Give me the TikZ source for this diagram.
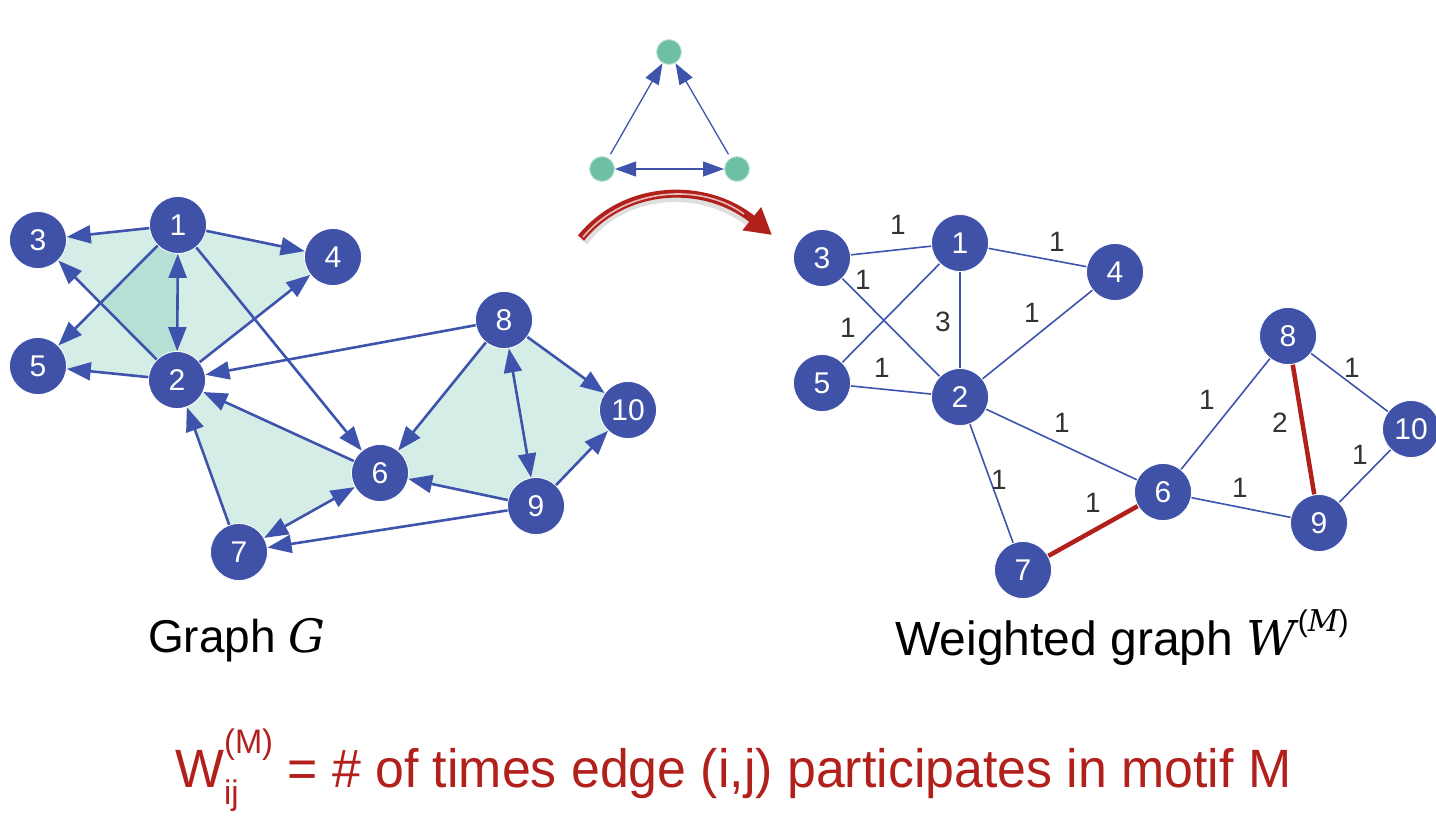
\documentclass[tikz,border=0pt]{standalone}
\usepackage{fontspec}
\setmainfont{Liberation Sans}
\newfontfamily\mathitfont{DejaVu Serif}
\newfontfamily\redfont[FakeStretch=0.96]{Liberation Sans}
\usetikzlibrary{arrows.meta,backgrounds}
\definecolor{nodeblue}{RGB}{63,82,167}
\definecolor{edgeblue}{RGB}{62,84,172}
\definecolor{motifteal}{RGB}{109,191,166}
\definecolor{shadeteal}{RGB}{80,180,155}
\definecolor{redm}{RGB}{178,32,28}
\definecolor{labelgray}{RGB}{50,50,50}
\newcommand{\mitG}{{\mathitfont\itshape G}}
\newcommand{\mitWM}{{\mathitfont\itshape W}\raisebox{0.5em}{\fontsize{30}{30}\selectfont\hspace{2pt}({\mathitfont\itshape M})}}
\begin{document}
\begin{tikzpicture}[x=1pt,y=-1pt,
 vtx/.style={circle, fill=nodeblue, draw=white, line width=0.8pt, minimum size=57pt, inner sep=0pt, text=white, font=\fontsize{30}{30}\selectfont},
 darr/.style={draw=edgeblue, line width=2.6pt, -{Triangle[length=24pt,width=18pt]}},
 dbi/.style={draw=edgeblue, line width=2.6pt, {Triangle[length=24pt,width=18pt]}-{Triangle[length=24pt,width=18pt]}},
 wline/.style={draw=edgeblue, line width=1.6pt},
 redge/.style={draw=redm, line width=4.5pt},
 wlab/.style={text=labelgray, font=\fontsize{28}{28}\selectfont, inner sep=0pt},
 mv/.style={circle, fill=motifteal, draw=motifteal!40, line width=1pt, minimum size=25pt, inner sep=0pt},
 marr/.style={draw=edgeblue, line width=1.3pt, -{Triangle[length=21pt,width=15pt]}},
 mbi/.style={draw=edgeblue, line width=1.3pt, {Triangle[length=21pt,width=15pt]}-{Triangle[length=21pt,width=15pt]}},
 caption/.style={font=\fontsize{46}{46}\selectfont, inner sep=0pt, anchor=base west},
 tri/.style={fill=shadeteal, fill opacity=0.24},
]
\useasboundingbox (0,0) rectangle (1436,820);

% ---------- left graph G ----------
\node[vtx] (l1) at (178,225) {1};
\node[vtx] (l2) at (177,380) {2};
\node[vtx] (l3) at (38,240) {3};
\node[vtx] (l4) at (333,257) {4};
\node[vtx] (l5) at (38,366) {5};
\node[vtx] (l6) at (380,473) {6};
\node[vtx] (l7) at (239,552) {7};
\node[vtx] (l8) at (504,320) {8};
\node[vtx] (l9) at (536,506) {9};
\node[vtx] (l10) at (628,410) {10};

\begin{scope}[on background layer]
 \path[tri] (l1.center) -- (l2.center) -- (l3.center) -- cycle;
 \path[tri] (l1.center) -- (l2.center) -- (l5.center) -- cycle;
 \path[tri] (l1.center) -- (l2.center) -- (l4.center) -- cycle;
 \path[tri] (l2.center) -- (l6.center) -- (l7.center) -- cycle;
 \path[tri] (l8.center) -- (l9.center) -- (l6.center) -- cycle;
 \path[tri] (l8.center) -- (l9.center) -- (l10.center) -- cycle;
\end{scope}

\draw[darr] (l1) -- (l3);
\draw[darr] (l1) -- (l4);
\draw[darr] (l1) -- (l5);
\draw[dbi] (l1) -- (l2);
\draw[darr] (l2) -- (l3);
\draw[darr] (l2) -- (l5);
\draw[darr] (l2) -- (l4);
\draw[darr] (l1) -- (l6);
\draw[darr] (l8) -- (l2);
\draw[darr] (l6) -- (l2);
\draw[darr] (l7) -- (l2);
\draw[darr] (l8) -- (l6);
\draw[dbi] (l8) -- (l9);
\draw[darr] (l8) -- (l10);
\draw[darr] (l9) -- (l10);
\draw[darr] (l9) -- (l6);
\draw[darr] (l9) -- (l7);
\draw[dbi] (l6) -- (l7);

% ---------- motif ----------
\node[mv] (m1) at (669,52) {};
\node[mv] (m2) at (602,169) {};
\node[mv] (m3) at (737,169) {};
\draw[marr, shorten <=4pt] (m2) -- (m1);
\draw[marr, shorten <=4pt] (m3) -- (m1);
\draw[mbi] (m2) -- (m3);

% ---------- red curved arrow ----------
\coordinate (ra) at (581,238);
\coordinate (rb) at (772,235);
\draw[black!25, line width=8pt, opacity=0.5] ([shift={(3,4)}]ra) .. controls (625,188) and (705,185) .. ([shift={(3,4)}]750,222);
\draw[redm, line width=8pt, -{Triangle[length=26pt,width=28pt]}] (ra) .. controls (625,184) and (705,181) .. (rb);
\draw[white!70!redm, line width=1.6pt] ([shift={(2,-1)}]ra) .. controls (626,186) and (702,183) .. (744,214);

% ---------- right weighted graph ----------
\node[vtx] (r1) at (960,243) {1};
\node[vtx] (r2) at (960,397) {2};
\node[vtx] (r3) at (822,258) {3};
\node[vtx] (r4) at (1115,272) {4};
\node[vtx] (r5) at (822,383) {5};
\node[vtx] (r6) at (1163,492) {6};
\node[vtx] (r7) at (1023,570) {7};
\node[vtx] (r8) at (1288,336) {8};
\node[vtx] (r9) at (1319,523) {9};
\node[vtx] (r10) at (1411,429) {10};

\begin{scope}[on background layer]
 \draw[wline] (r3) -- (r1);
 \draw[wline] (r3) -- (r2);
 \draw[wline] (r5) -- (r1);
 \draw[wline] (r1) -- (r2);
 \draw[wline] (r5) -- (r2);
 \draw[wline] (r1) -- (r4);
 \draw[wline] (r2) -- (r4);
 \draw[wline] (r2) -- (r6);
 \draw[wline] (r2) -- (r7);
 \draw[redge] (r7) -- (r6);
 \draw[wline] (r6) -- (r8);
 \draw[redge] (r8) -- (r9);
 \draw[wline] (r8) -- (r10);
 \draw[wline] (r9) -- (r10);
 \draw[wline] (r6) -- (r9);
\end{scope}

\node[wlab] (w31) at (898,225) {1};
\node[wlab] (w32) at (863,280) {1};
\node[wlab] (w51) at (848,328) {1};
\node[wlab] (w12) at (943,322) {3};
\node[wlab] (w52) at (882,368) {1};
\node[wlab] (w14) at (1057,242) {1};
\node[wlab] (w24) at (1032,313) {1};
\node[wlab] (w26) at (1062,423) {1};
\node[wlab] (w27) at (999,480) {1};
\node[wlab] (w76) at (1093,503) {1};
\node[wlab] (w68) at (1207,400) {1};
\node[wlab] (w89) at (1280,423) {2};
\node[wlab] (w810) at (1352,368) {1};
\node[wlab] (w910) at (1360,455) {1};
\node[wlab] (w69) at (1240,488) {1};

% ---------- captions ----------
\node[caption] (capG) at (148,652) {Graph \mitG};
\node[caption, font=\fontsize{48}{48}\selectfont] (capW) at (895,655) {Weighted graph \mitWM};
\node[caption, text=redm, font=\redfont\fontsize{54}{54}\selectfont] (capF) at (175,787)
 {W\rlap{\raisebox{-0.32em}{\fontsize{34}{34}\selectfont ij}}\raisebox{0.62em}{\fontsize{34}{34}\selectfont (M)} = \# of times edge (i,j) participates in motif M};
\end{tikzpicture}
\end{document}
